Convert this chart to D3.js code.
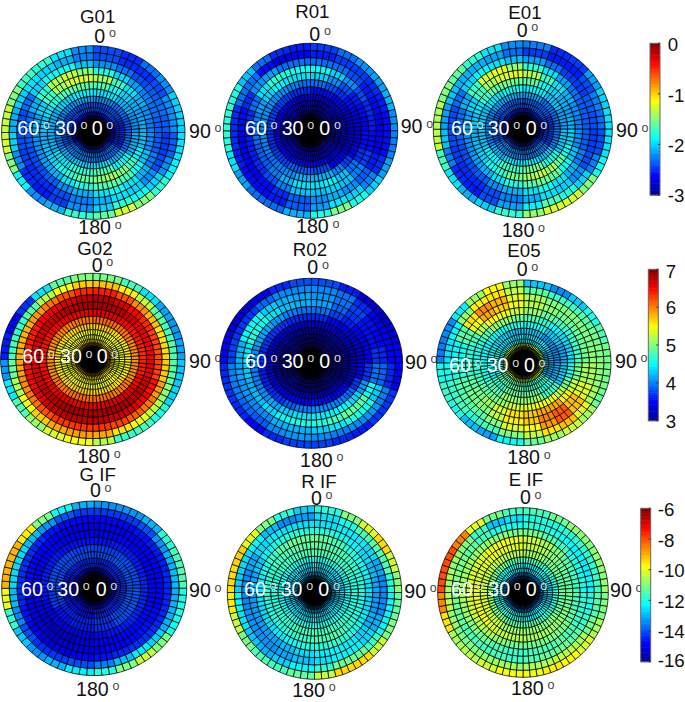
<!DOCTYPE html>
<html><head><meta charset="utf-8">
<script src="https://cdn.jsdelivr.net/npm/d3@7"></script>
<style>html,body{margin:0;padding:0;background:#fff}svg{display:block}text{font-family:"Liberation Sans",Arial,sans-serif;font-size:18.7px}</style>
</head><body><div id="chart"></div>
<script>
// Each table: rings from the rim inward; each ring lists equal azimuth sectors clockwise from 0 deg.
const G01 = [
[-2.4,-2.5,-2.3,-2.2,-2.0,-2.0,-1.95,-1.9,-1.75,-1.5,-1.25,-1.6,-1.75,-2.1,-2.2,-1.9,-1.5,-1.25,-1.3,-1.5,-1.7,-1.75,-1.95,-2.2],
[-2.4,-2.5,-2.5,-2.4,-2.2,-2.2,-2.35,-2.2,-2.0,-1.85,-1.75,-2.0,-2.2,-2.45,-2.55,-2.5,-2.2,-2.0,-2.1,-2.0,-1.95,-2.0,-2.1,-2.25],
[-2.2,-2.3,-2.4,-2.35,-2.3,-2.35,-2.45,-2.4,-2.2,-2.0,-1.95,-2.1,-2.25,-2.4,-2.5,-2.5,-2.45,-2.4,-2.4,-2.3,-2.0,-1.85,-1.85,-2.05],
[-1.8,-2.0,-2.15,-2.25,-2.3,-2.35,-2.35,-2.25,-2.1,-1.95,-1.85,-1.95,-2.1,-2.2,-2.35,-2.4,-2.4,-2.35,-2.3,-2.1,-1.75,-1.35,-1.3,-1.5],
[-1.4,-1.7,-1.95,-2.1,-2.2,-2.25,-2.2,-2.05,-1.85,-1.65,-1.6,-1.65,-1.8,-1.95,-2.1,-2.15,-2.2,-2.2,-2.15,-2.0,-1.7,-1.4,-1.25,-1.25],
[-1.65,-1.85,-2.0,-2.1,-2.15,-2.1,-2.05,-1.9,-1.7,-1.5,-1.4,-1.5,-1.6,-1.75,-1.85,-2.0,-2.05,-2.1,-2.05,-1.95,-1.8,-1.65,-1.6,-1.6],
[-1.95,-2.1,-2.2,-2.1,-1.85,-1.65,-1.75,-1.95,-2.1,-2.1,-2.0,-1.9],
[-2.2,-2.3,-2.35,-2.3,-2.1,-1.95,-2.0,-2.1,-2.25,-2.25,-2.2,-2.15],
[-2.4,-2.5,-2.3,-2.25,-2.4,-2.4],
[-2.6,-2.6,-2.5,-2.5,-2.6,-2.6],
[-2.75],
[-1.9]];
const R01 = [
[-2.45,-2.3,-2.2,-2.15,-2.1,-2.2,-2.25,-2.15,-2.0,-1.8,-1.5,-1.8,-2.1,-2.3,-2.3,-2.15,-1.95,-1.75,-1.75,-1.8,-2.05,-2.3,-2.5,-2.55],
[-2.55,-2.45,-2.45,-2.5,-2.55,-2.6,-2.6,-2.5,-2.25,-2.0,-1.95,-2.15,-2.35,-2.55,-2.6,-2.6,-2.55,-2.5,-2.5,-2.3,-2.3,-2.6,-2.7,-2.65],
[-2.3,-2.3,-2.4,-2.55,-2.6,-2.65,-2.65,-2.55,-2.35,-2.2,-2.1,-2.2,-2.35,-2.5,-2.6,-2.65,-2.65,-2.65,-2.6,-2.5,-2.2,-2.15,-2.3,-2.3],
[-1.85,-2.0,-2.2,-2.4,-2.5,-2.55,-2.6,-2.45,-2.25,-2.05,-2.0,-2.05,-2.05,-2.25,-2.4,-2.5,-2.55,-2.55,-2.5,-2.3,-1.95,-1.75,-1.8,-1.85],
[-2.0,-2.2,-2.4,-2.55,-2.6,-2.65,-2.6,-2.5,-2.3,-2.05,-1.9,-1.95,-1.95,-2.1,-2.25,-2.35,-2.35,-2.3,-2.25,-2.15,-2.0,-1.9,-1.95,-1.95],
[-2.3,-2.4,-2.5,-2.6,-2.7,-2.75,-2.75,-2.65,-2.45,-2.25,-2.1,-2.1,-2.1,-2.2,-2.25,-2.3,-2.25,-2.2,-2.2,-2.2,-2.2,-2.2,-2.25,-2.3],
[-2.6,-2.7,-2.8,-2.8,-2.65,-2.4,-2.35,-2.45,-2.5,-2.45,-2.45,-2.5],
[-2.75,-2.8,-2.85,-2.85,-2.75,-2.6,-2.6,-2.65,-2.7,-2.65,-2.65,-2.7],
[-2.85,-2.9,-2.8,-2.75,-2.8,-2.8],
[-2.9],
[-2.95],
[-2.95]];
const E01 = [
[-2.25,-2.5,-2.45,-2.15,-2.0,-1.95,-1.95,-1.85,-1.5,-1.25,-1.25,-1.45,-1.75,-2.0,-2.1,-1.95,-1.7,-1.3,-1.35,-1.5,-1.6,-1.75,-1.95,-2.2],
[-2.45,-2.55,-2.55,-2.4,-2.25,-2.3,-2.4,-2.25,-2.0,-1.8,-1.65,-1.9,-2.15,-2.4,-2.55,-2.5,-2.25,-2.05,-2.15,-2.05,-2.1,-2.1,-2.15,-2.3],
[-2.15,-2.3,-2.45,-2.45,-2.35,-2.4,-2.45,-2.4,-2.2,-2.0,-1.95,-2.1,-2.25,-2.4,-2.5,-2.5,-2.45,-2.4,-2.4,-2.3,-2.0,-1.9,-1.95,-2.05],
[-1.75,-1.95,-2.15,-2.3,-2.35,-2.35,-2.35,-2.25,-2.1,-1.95,-1.85,-1.95,-2.1,-2.2,-2.35,-2.4,-2.4,-2.35,-2.3,-2.1,-1.7,-1.25,-1.2,-1.45],
[-1.35,-1.7,-1.95,-2.1,-2.2,-2.25,-2.2,-2.05,-1.85,-1.6,-1.55,-1.65,-1.8,-1.95,-2.1,-2.15,-2.2,-2.2,-2.15,-2.0,-1.7,-1.4,-1.25,-1.2],
[-1.6,-1.85,-2.0,-2.1,-2.15,-2.1,-2.0,-1.85,-1.6,-1.4,-1.3,-1.4,-1.55,-1.75,-1.85,-2.0,-2.05,-2.1,-2.05,-1.95,-1.75,-1.6,-1.55,-1.55],
[-1.9,-2.05,-2.15,-2.05,-1.8,-1.55,-1.7,-1.9,-2.05,-2.05,-1.95,-1.85],
[-2.15,-2.3,-2.3,-2.25,-2.05,-1.9,-1.95,-2.1,-2.25,-2.25,-2.15,-2.1],
[-2.35,-2.45,-2.25,-2.2,-2.35,-2.35],
[-2.55,-2.55,-2.45,-2.45,-2.55,-2.55],
[-2.7],
[-1.9]];
const G02 = [
[4.95,4.75,4.4,4.15,4.1,4.15,4.3,4.35,4.6,4.75,4.7,5.2,5.45,5.35,5.1,4.8,4.45,4.1,3.6,3.5,3.7,4.4,4.85,5.0],
[5.75,5.55,5.25,4.85,4.75,4.8,4.85,5.05,5.25,5.45,5.6,5.85,5.9,5.85,5.7,5.45,5.2,4.9,4.75,4.7,4.85,5.2,5.5,5.7],
[6.4,6.2,5.95,5.75,5.6,5.65,5.7,5.9,6.05,6.15,6.25,6.3,6.3,6.3,6.2,6.05,5.95,5.85,5.8,5.8,5.9,6.05,6.2,6.35],
[6.8,6.65,6.5,6.35,6.25,6.2,6.25,6.45,6.55,6.65,6.7,6.75,6.75,6.75,6.7,6.6,6.5,6.45,6.4,6.4,6.5,6.55,6.65,6.75],
[6.85,6.8,6.7,6.6,6.55,6.5,6.55,6.7,6.8,6.85,6.85,6.85,6.85,6.85,6.8,6.75,6.65,6.6,6.6,6.65,6.7,6.75,6.8,6.85],
[6.6,6.6,6.5,6.45,6.4,6.35,6.4,6.5,6.6,6.65,6.65,6.6,6.6,6.6,6.6,6.55,6.5,6.45,6.45,6.45,6.5,6.55,6.55,6.6],
[6.1,6.05,5.95,5.95,6.05,6.1,6.1,6.05,5.95,5.95,6.0,6.05],
[5.7,5.65,5.6,5.6,5.65,5.7,5.7,5.65,5.6,5.6,5.65,5.7],
[5.45,5.4,5.45,5.45,5.4,5.45],
[5.6],
[6.0],
[6.2]];
const R02 = [
[3.8,3.6,3.3,3.3,3.35,3.5,3.5,3.7,3.7,3.6,3.65,3.75,3.75,3.65,3.5,3.65,3.7,3.65,3.5,3.35,3.3,3.4,3.65,3.8],
[4.05,3.95,3.65,3.4,3.45,3.5,3.65,4.0,4.1,4.05,4.0,4.05,4.1,4.05,3.85,3.9,4.0,4.0,3.75,3.7,3.7,3.9,4.05,4.05],
[4.1,3.95,3.75,3.55,3.5,3.65,3.9,4.3,4.55,4.6,4.4,4.3,4.2,4.2,4.05,4.05,4.1,4.15,4.2,4.5,4.5,4.3,4.2,4.15],
[4.15,3.9,3.7,3.55,3.55,3.7,3.95,4.55,4.85,4.9,4.75,4.6,4.6,4.5,4.35,4.25,4.2,4.3,4.4,4.65,4.55,4.4,4.25,4.2],
[3.95,3.75,3.6,3.45,3.4,3.5,3.7,4.1,4.35,4.5,4.45,4.45,4.4,4.3,4.15,4.05,4.0,4.0,4.05,4.15,4.15,4.1,4.0,3.95],
[3.65,3.5,3.4,3.3,3.3,3.3,3.45,3.7,3.9,4.0,4.05,4.05,4.0,3.85,3.7,3.65,3.6,3.6,3.65,3.7,3.7,3.7,3.65,3.65],
[3.3,3.2,3.15,3.2,3.45,3.55,3.5,3.35,3.3,3.3,3.3,3.3],
[3.1,3.05,3.05,3.05,3.2,3.25,3.25,3.1,3.1,3.1,3.1,3.1],
[3.0],
[3.0],
[3.0],
[3.0]];
const E05 = [
[4.3,4.05,4.3,4.6,4.8,4.95,4.95,4.9,5.15,5.3,5.1,4.9,4.5,4.15,4.25,4.6,4.7,4.55,4.0,4.05,4.45,5.1,5.5,5.1],
[4.85,4.7,4.75,4.85,4.95,5.0,5.05,5.15,5.4,5.75,5.6,5.25,5.0,4.75,4.65,4.75,4.7,4.55,4.4,4.5,5.05,5.55,5.6,5.25],
[5.15,5.0,5.0,5.0,5.0,5.05,5.15,5.35,5.75,6.15,5.9,5.5,5.35,5.0,4.85,4.85,4.8,4.6,4.5,4.85,5.6,5.95,5.8,5.4],
[5.2,5.05,4.95,4.9,4.9,4.95,5.15,5.4,5.75,6.15,6.0,5.7,5.55,5.25,5.0,4.95,4.85,4.65,4.55,4.85,5.45,5.85,5.7,5.45],
[5.1,4.9,4.75,4.7,4.7,4.75,4.95,5.25,5.55,5.85,5.85,5.7,5.6,5.35,5.1,4.95,4.85,4.7,4.6,4.75,5.2,5.5,5.45,5.3],
[4.8,4.65,4.5,4.4,4.35,4.4,4.55,4.9,5.2,5.45,5.45,5.4,5.35,5.1,4.95,4.85,4.75,4.65,4.6,4.65,4.85,5.05,5.05,4.95],
[4.55,4.3,4.15,4.3,4.75,5.1,5.1,4.8,4.6,4.5,4.5,4.6],
[4.3,4.1,4.05,4.2,4.6,4.9,4.9,4.7,4.55,4.45,4.35,4.3],
[4.4,4.2,4.7,4.85,4.6,4.4],
[5.3],
[6.0],
[6.5]];
const GIF = [
[-13.3,-13.3,-13,-11.9,-11.6,-11.5,-12,-12.1,-11,-10.3,-11,-11.9,-12.4,-13,-13.3,-12.8,-11.8,-9.9,-9,-9,-9.6,-11,-12.2,-13],
[-14.2,-14.2,-14,-13.3,-13,-12.9,-13,-13,-12.7,-12.4,-12.9,-13.5,-14,-14.2,-14.3,-14,-13.4,-12.9,-12.6,-12.6,-12.9,-13.3,-13.9,-14.2],
[-14.7,-14.7,-14.6,-14.5,-14.5,-14.4,-14.4,-14.4,-14.3,-14.3,-14.4,-14.6,-14.8,-15,-15.1,-14.9,-14.6,-14.4,-14.3,-14.3,-14.4,-14.6,-14.7,-14.7],
[-15,-15,-14.9,-14.8,-14.8,-14.8,-14.8,-14.7,-14.6,-14.7,-14.8,-14.9,-15.1,-15.2,-15.3,-15.2,-15,-14.8,-14.7,-14.7,-14.8,-14.9,-15,-15],
[-14.9,-14.8,-14.8,-14.8,-14.8,-14.8,-14.7,-14.7,-14.7,-14.7,-14.8,-14.9,-15.1,-15.3,-15.4,-15.3,-15,-14.9,-14.8,-14.8,-14.8,-14.9,-14.9,-14.9],
[-14.6,-14.5,-14.5,-14.5,-14.5,-14.4,-14.4,-14.4,-14.4,-14.5,-14.6,-14.7,-14.9,-15,-15.1,-15,-14.8,-14.6,-14.5,-14.5,-14.5,-14.6,-14.6,-14.6],
[-14.1,-14,-14,-13.9,-14,-14.3,-14.5,-14.6,-14.2,-14,-14,-14.1],
[-14,-13.9,-13.9,-13.9,-14,-14.2,-14.4,-14.4,-14.1,-14,-14,-14],
[-14.4,-14.3,-14.4,-14.6,-14.5,-14.4],
[-15],
[-15.5],
[-15.5]];
const RIF = [
[-11.9,-11,-10.1,-9.4,-10.3,-10.9,-11.3,-11,-10.3,-9.4,-9.4,-10.3,-11.3,-11.6,-11.5,-11.1,-10.3,-9.6,-9.4,-9.3,-10,-11,-11.9,-12.7],
[-12.5,-12.1,-11.6,-11.4,-11.5,-11.9,-12.3,-12.3,-11.7,-11.2,-11.2,-11.8,-12.3,-12.7,-13,-12.8,-12.5,-12.3,-12.7,-12.6,-12.3,-12.9,-13.4,-13.2],
[-12.5,-12.4,-12.4,-12.6,-13.1,-13.4,-13.4,-13,-12.6,-12.3,-12.3,-12.5,-12.8,-13.1,-13.3,-13.3,-13.3,-13.4,-13.4,-13.1,-12.6,-12.4,-12.5,-12.5],
[-11.9,-12.1,-12.3,-12.6,-12.9,-13.1,-13.2,-13,-12.7,-12.4,-12.3,-12.4,-12.6,-12.9,-13.1,-13.2,-13.2,-13.2,-13.1,-12.8,-12.3,-12,-11.9,-11.9],
[-11.3,-11.6,-11.9,-12.1,-12.3,-12.5,-12.6,-12.4,-12.1,-11.9,-11.8,-11.9,-12,-12.2,-12.4,-12.5,-12.6,-12.5,-12.4,-12.1,-11.7,-11.4,-11.2,-11.2],
[-11.4,-11.5,-11.6,-11.8,-11.9,-12,-12.1,-12,-11.8,-11.6,-11.5,-11.6,-11.7,-11.8,-11.9,-12,-12,-12,-11.9,-11.8,-11.6,-11.5,-11.4,-11.4],
[-11.5,-11.7,-11.9,-12,-11.8,-11.6,-11.6,-11.8,-11.9,-11.9,-11.7,-11.5],
[-12,-12.1,-12.2,-12.2,-12.1,-12,-12,-12.1,-12.2,-12.2,-12.1,-12],
[-12.5,-12.6,-12.5,-12.5,-12.6,-12.5],
[-13],
[-13.5],
[-13.5]];
const EIF = [
[-11.6,-11.2,-10.9,-10.9,-10.8,-10.8,-11,-10.6,-10.1,-9.7,-9.6,-9.9,-9.8,-10.2,-10.5,-10.6,-9.5,-8.6,-8,-8,-8.5,-10,-11.1,-11.6],
[-12,-12,-11.9,-11.8,-11.8,-11.7,-11.5,-11.1,-10.6,-10.4,-10.5,-10.6,-10.7,-10.8,-11,-11.1,-10.8,-10.4,-10.6,-10.8,-11,-11.7,-12.8,-12.5],
[-11.9,-12,-12.2,-12.3,-12.4,-12.3,-12,-11.7,-11.4,-11.2,-11.3,-11.5,-11.7,-11.6,-11.6,-11.5,-11.3,-11.1,-11,-11.1,-11.3,-11.6,-12,-12.1],
[-11.1,-11.4,-11.7,-12,-12.1,-12.1,-11.9,-11.7,-11.5,-11.4,-11.5,-11.6,-11.7,-11.5,-11.2,-11,-10.8,-10.7,-10.7,-10.7,-10.8,-10.8,-10.9,-11],
[-10.3,-10.6,-11,-11.4,-11.6,-11.6,-11.5,-11.3,-11.1,-11,-11.1,-11.2,-11.2,-10.9,-10.6,-10.4,-10.2,-10.2,-10.2,-10.2,-10.1,-9.9,-9.8,-10],
[-10.3,-10.6,-10.9,-11.2,-11.3,-11.3,-11.2,-11,-10.8,-10.7,-10.6,-10.6,-10.5,-10.3,-10.1,-9.9,-9.9,-9.9,-10,-10.1,-10,-10,-10,-10.1],
[-10.7,-11.1,-11.3,-11.3,-11,-10.8,-10.7,-10.3,-10.1,-10.3,-10.4,-10.5],
[-11.5,-11.7,-11.9,-11.9,-11.7,-11.4,-11.3,-11,-10.9,-11,-11.2,-11.4],
[-12.4,-12.6,-12.3,-12,-12,-12.2],
[-13.4],
[-14],
[-14.5]];

const panelTitles = ["G01","R01","E01","G02","R02","E05","G IF","R IF","E IF"];
const panelTables = [G01,R01,E01,G02,R02,E05,GIF,RIF,EIF];
const panelRow = [0,0,0,1,1,1,2,2,2];
const rowDomains = [[-3,0],[3,7],[-16,-6]];
const rowTicks = [[0,-1,-2,-3],[7,6,5,4,3],[-6,-8,-10,-12,-14,-16]];
const radialLabels = ["60","30","0"];
const azimuthLabels = ["0","90","180"];

// Grid and layout, kept apart from the data
const sectorCount = 76;
const ringEdges = [100,91.7,83.3,75,66.7,58.3,50,41.7,34.5,28.5,23.5,19,15,11.5,8.5,5.5,0];
const ringTableRow = [0,1,2,3,4,5,6,7,8,8,9,9,10,10,11,11];
const geom = [
 {cx:93.3,cy:132.5,rx:91.7,ry:86.8, t:[97.7,22.7], top:[94.3,43], rad:[17.3,55,91.7,135], r90:[189,137.7], r180:[78.3,234.3]},
 {cx:310.5,cy:130.8,rx:87.2,ry:87.5, t:[312.3,18.3], top:[309.3,40.7], rad:[245,281.7,319.3,135], r90:[400.7,133.3], r180:[296,233.3]},
 {cx:522.8,cy:129.2,rx:89.5,ry:88.5, t:[525,19.3], top:[516.7,36.7], rad:[451,487.7,525.7,135], r90:[616,137.3], r180:[501.7,237.3]},
 {cx:92.8,cy:359.5,rx:92.2,ry:86.2, t:[95,255], top:[91.7,271.7], rad:[22.3,60,96.7,363.3], r90:[189,367.7], r180:[77.3,463.3]},
 {cx:311.3,cy:363.3,rx:91.3,ry:85, t:[310,255.7], top:[307.3,274.3], rad:[245,281.7,319.3,367.7], r90:[405,369], r180:[300,466.7]},
 {cx:523.8,cy:362.8,rx:87.2,ry:82.8, t:[524,256.7], top:[516.7,276.3], rad:[449,486.7,524,372.3], r90:[615,367.7], r180:[507.3,464.3]},
 {cx:94.2,cy:588.3,rx:92.5,ry:87.3, t:[97.7,481], top:[90,497.3], rad:[21,57.3,95.7,595.7], r90:[189,597.3], r180:[76,695.7]},
 {cx:314.5,cy:592.5,rx:87.2,ry:86.8, t:[319,487.7], top:[311,504.7], rad:[244,280.7,318.3,595.7], r90:[404.3,597.7], r180:[292.3,696.7]},
 {cx:523,cy:592.5,rx:85.3,ry:84.8, t:[526,486], top:[520,504.3], rad:[451,488.3,525.7,595.7], r90:[610,597.3], r180:[511,695]}
];
const barGeom = [
 {x:650,y0:43.3,y1:195,lx:667.7,base:[50.7,101.7,152.3,202.3]},
 {x:648.3,y0:269.3,y1:420.7,lx:665.7,base:[277.7,314.3,352.3,390,427.7]},
 {x:640.7,y0:508.3,y1:661.7,lx:657.7,base:[515.7,546.7,577.3,607.7,638.3,667.3]}
];

const jet = d3.scaleLinear()
  .domain([0,.125,.375,.625,.875,1])
  .range(["#00008f","#0000ff","#00ffff","#ffff00","#ff0000","#800000"])
  .clamp(true);
const colorFor = dom => { const n = d3.scaleLinear().domain(dom).range([0,1]); return v => jet(n(v)); };

const svg = d3.select("#chart").append("svg").attr("width",685).attr("height",702);
const grad = svg.append("defs").append("radialGradient").attr("id","hub");
[[0,1],[.62,1],[1,0]].forEach(([o,a])=>grad.append("stop").attr("offset",o).attr("stop-color","#000").attr("stop-opacity",a));
const angle = d3.scaleLinear().domain([0,sectorCount]).range([0,2*Math.PI]);
const arc = d3.arc();

function label(x,y,str,fill,ringFill){
  const t = svg.append("text").attr("x",x).attr("y",y).attr("fill",fill||"#111").style("font-size","19.6px").text(str);
  t.append("tspan").attr("dx",3.7).attr("dy",-5.7).attr("fill",ringFill||"#444").style("font-size","12.5px").text("o");
  return t;
}

panelTables.forEach((table,p)=>{
  const g = geom[p], color = colorFor(rowDomains[panelRow[p]]);
  const cells = [];
  ringTableRow.forEach((row,k)=>{
    const ring = table[row];
    for(let s=0;s<sectorCount;s++){
      cells.push({r0:ringEdges[k+1],r1:ringEdges[k],s,v:ring[Math.floor(s*ring.length/sectorCount)]});
    }
  });
  svg.append("g").attr("transform",`translate(${g.cx},${g.cy}) scale(${g.rx/100},${g.ry/100})`)
    .selectAll("path").data(cells).join("path")
    .attr("d",d=>arc({innerRadius:d.r0,outerRadius:d.r1,startAngle:angle(d.s),endAngle:angle(d.s+1)}))
    .attr("fill",d=>color(d.v)).attr("stroke","#000").attr("stroke-width",.75)
    .attr("vector-effect","non-scaling-stroke");
  svg.append("circle").attr("cx",g.cx).attr("cy",g.cy).attr("r",19).attr("fill","url(#hub)");
  svg.append("text").attr("x",g.t[0]).attr("y",g.t[1]).attr("text-anchor","middle").attr("fill","#111").text(panelTitles[p]);
  label(g.top[0],g.top[1],azimuthLabels[0]);
  label(g.r90[0],g.r90[1],azimuthLabels[1]);
  label(g.r180[0],g.r180[1],azimuthLabels[2]);
  radialLabels.forEach((s,i)=>label(g.rad[i],g.rad[3],s,"#fff","#ddd"));
});

rowDomains.forEach((dom,i)=>{
  const b = barGeom[i], color = colorFor(dom);
  const y = d3.scaleLinear().domain(dom).range([b.y1,b.y0]);
  const steps = d3.range(64);
  const val = d3.scaleLinear().domain([0,64]).range(dom);
  const g = svg.append("g");
  g.selectAll("rect").data(steps).join("rect")
    .attr("x",b.x).attr("width",10)
    .attr("y",d=>y(val(d+1))).attr("height",d=>y(val(d))-y(val(d+1))+.5)
    .attr("fill",d=>color(val(d+.5)));
  g.append("rect").attr("x",b.x).attr("y",b.y0).attr("width",10).attr("height",b.y1-b.y0)
    .attr("fill","none").attr("stroke","#666").attr("stroke-width",1);
  rowTicks[i].forEach((t,j)=>{
    g.append("line").attr("x1",b.x+8).attr("x2",b.x+10).attr("y1",y(t)).attr("y2",y(t)).attr("stroke","#333");
    svg.append("text").attr("x",b.lx).attr("y",b.base[j]).attr("fill","#111").text(t);
  });
});
</script></body></html>
